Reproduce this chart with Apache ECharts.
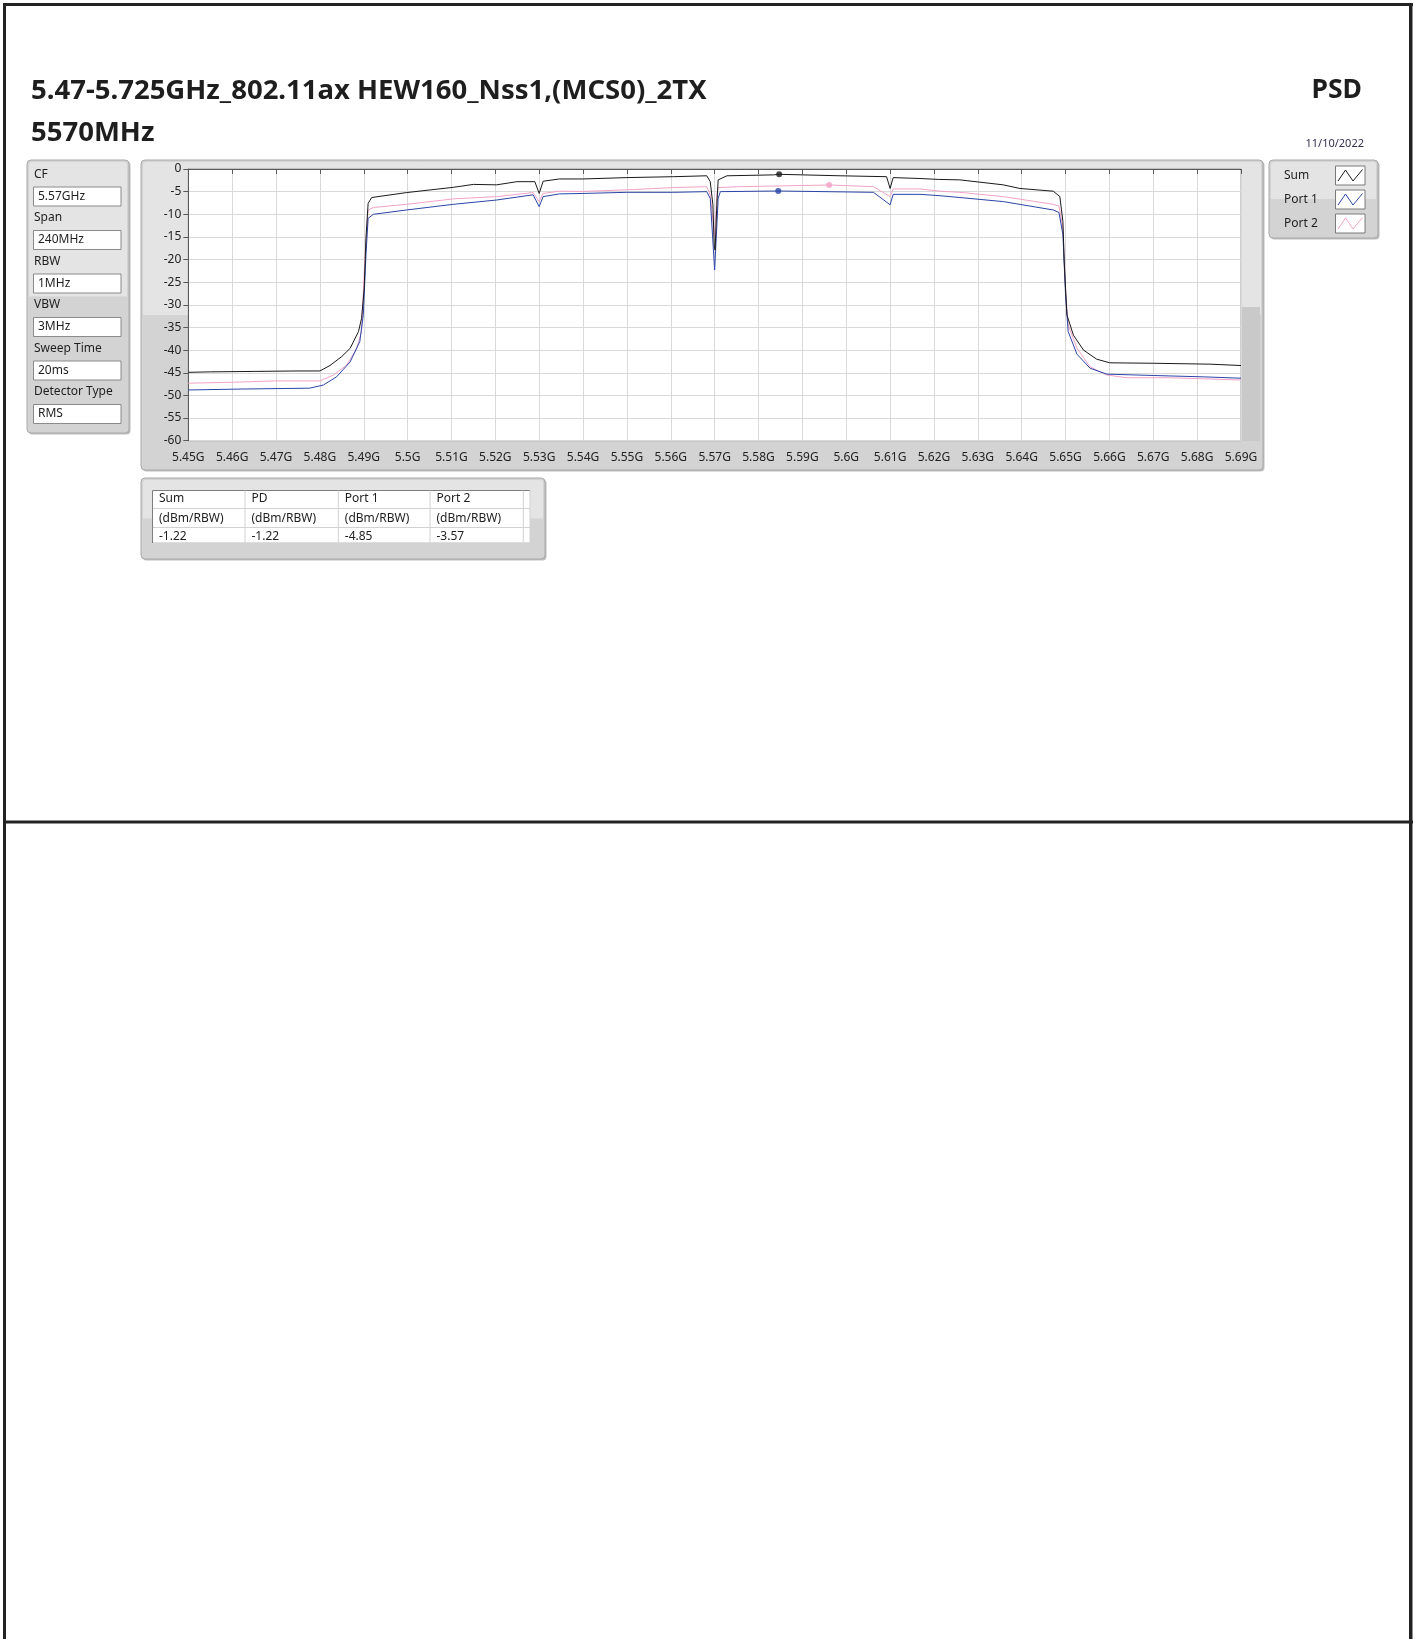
<!DOCTYPE html>
<html><head><meta charset="utf-8">
<script src="https://cdn.jsdelivr.net/npm/echarts@6/dist/echarts.min.js"></script>
<style>html,body{margin:0;padding:0;background:#fff;}#c{width:1415px;height:1639px;}</style>
</head><body><div id="c"></div>
<script>
// ---------- texts ----------
const titleLine1 = '5.47-5.725GHz_802.11ax HEW160_Nss1,(MCS0)_2TX';
const titleLine2 = '5570MHz';
const chartName = 'PSD';
const dateText = '11/10/2022';
const paramLabels = ['CF', 'Span', 'RBW', 'VBW', 'Sweep Time', 'Detector Type'];
const paramValues = ['5.57GHz', '240MHz', '1MHz', '3MHz', '20ms', 'RMS'];
const seriesNames = ['Sum', 'Port 1', 'Port 2'];
const seriesColors = ['#1a1a1a', '#2b45a8', '#f2a3c6'];
const tableHeaders = ['Sum', 'PD', 'Port 1', 'Port 2'];
const tableUnits = ['(dBm/RBW)', '(dBm/RBW)', '(dBm/RBW)', '(dBm/RBW)'];
const tableValues = ['-1.22', '-1.22', '-4.85', '-3.57'];
const xTickLabels = ['5.45G','5.46G','5.47G','5.48G','5.49G','5.5G','5.51G','5.52G','5.53G','5.54G','5.55G','5.56G','5.57G','5.58G','5.59G','5.6G','5.61G','5.62G','5.63G','5.64G','5.65G','5.66G','5.67G','5.68G','5.69G'];
const yTickLabels = ['0','-5','-10','-15','-20','-25','-30','-35','-40','-45','-50','-55','-60'];

// ---------- data (frequency in MHz, level in dBm) ----------
const sumFreq = [5450,5455,5465,5475,5480,5482.3,5485,5486.9,5488.8,5489.5,5490.1,5490.5,5491,5491.8,5499.8,5510.4,5515,5520.3,5524.9,5529,5530,5530.9,5534.6,5540,5550,5560.6,5568.2,5569,5569.6,5569.9,5570.1,5570.5,5570.8,5572.8,5583.4,5584.7,5598.6,5609.2,5610,5610.7,5616.8,5621,5625.9,5635.8,5639.6,5647.2,5648.7,5649.4,5649.7,5650.3,5651.8,5654.1,5657.1,5660.1,5670,5682.9,5690];
const sumVal  = [-44.9,-44.8,-44.7,-44.6,-44.6,-43.4,-41.4,-39.6,-35.9,-33.0,-26.4,-15.3,-7.6,-6.3,-5.2,-4.05,-3.4,-3.5,-2.8,-2.8,-5.4,-2.7,-2.2,-2.2,-1.9,-1.7,-1.5,-2.8,-7.9,-16.8,-17.9,-7.9,-2.4,-1.5,-1.3,-1.17,-1.5,-1.7,-4.3,-1.9,-2.1,-2.3,-2.4,-3.5,-4.3,-4.9,-6.1,-11.6,-20.5,-32.2,-36.7,-40.0,-42.0,-42.8,-42.9,-43.1,-43.4];

const port1Freq = [5450,5461.8,5477.7,5480.8,5483.8,5486.9,5489.1,5489.9,5490.5,5491,5492.2,5499.8,5510.4,5520.3,5528.6,5530,5530.9,5534.6,5540,5550,5560.6,5568.2,5569,5570,5570.8,5571.3,5584.5,5606.2,5610,5610.7,5616.8,5621.4,5625.9,5635.8,5647.2,5648.5,5649.4,5650,5650.6,5652.6,5655.6,5659.4,5670,5681.4,5690];
const port1Val  = [-48.8,-48.6,-48.4,-47.7,-45.9,-42.6,-38.1,-32.2,-19.0,-10.9,-10.0,-9.05,-7.8,-6.85,-5.7,-8.3,-6.1,-5.5,-5.4,-5.15,-5.15,-5.0,-6.5,-22.3,-6.5,-5.0,-4.86,-5.15,-7.9,-5.6,-5.6,-5.9,-6.3,-7.2,-9.05,-9.6,-14.5,-27.8,-35.9,-40.9,-44.0,-45.3,-45.6,-45.9,-46.2];

const port2Freq = [5450,5460,5469.6,5480,5483.1,5486.1,5488.4,5489.5,5490.3,5491,5492.2,5499.8,5510.4,5520.3,5528.6,5530,5530.9,5534.6,5540,5550,5560.6,5568.2,5569,5570,5570.5,5570.8,5575.7,5596.1,5606.2,5610,5610.7,5616.8,5621.4,5625.9,5635.8,5647.2,5648.5,5649.4,5650,5650.6,5652.6,5655.6,5659.4,5664,5673.9,5690];
const port2Val  = [-47.3,-47.1,-46.8,-46.8,-45.5,-43.3,-39.6,-35.9,-19.0,-9.05,-8.5,-7.8,-6.6,-6.1,-5.2,-7.2,-5.4,-4.9,-4.95,-4.6,-4.1,-3.9,-5.7,-15.0,-5.7,-4.1,-3.9,-3.53,-3.9,-6.1,-4.4,-4.4,-4.9,-5.15,-6.1,-7.8,-8.2,-13.1,-26.4,-34.4,-39.6,-43.7,-45.5,-46.1,-46.1,-46.6];

const markerFreq = [5584.7, 5584.5, 5596.1];
const markerVal  = [-1.17, -4.86, -3.53];

// ---------- helpers ----------
const FONT = '"Noto Sans", "Open Sans", sans-serif';
const zip = (a, b) => a.map((v, i) => [v, b[i]]);
const els = [];
function panel(x, y, w, h) {
  els.push({type:'rect', z:-20, shape:{x:x+1.5, y:y+1.5, width:w, height:h, r:4}, style:{fill:'#bdbdbd'}});
  els.push({type:'rect', z:-19, shape:{x:x, y:y, width:w, height:h, r:4}, style:{fill:'#d3d3d3', stroke:'#a9a9a9', lineWidth:1}});
  els.push({type:'rect', z:-18, shape:{x:x+2, y:y+2, width:w-4, height:h/2-2, r:[3,3,0,0]}, style:{fill:'#e4e4e4'}});
}
function txt(t, x, y, size, opts) {
  opts = opts || {};
  els.push({type:'text', z:10, style:{text:t, x:x, y:y, font:(opts.bold?'bold ':'') + size + 'px ' + FONT,
    fill:opts.color || '#1e1e1e', textAlign:opts.align || 'left', textVerticalAlign:'middle', verticalAlign:'middle'}});
}
function line(x1, y1, x2, y2, color, w, z) {
  els.push({type:'line', z:z == null ? 5 : z, shape:{x1, y1, x2, y2}, style:{stroke:color, lineWidth:w}});
}
function rectEl(x, y, w, h, fill, stroke, z) {
  els.push({type:'rect', z:z == null ? -10 : z, shape:{x, y, width:w, height:h}, style:{fill:fill, stroke:stroke || null, lineWidth:1}});
}

// page frame
rectEl(3, 3, 3, 1636, '#222', null, 20);
rectEl(3, 3, 1410, 3, '#222', null, 20);
rectEl(1409, 3, 3.5, 1636, '#222', null, 20);
rectEl(3, 820.5, 1410, 3, '#222', null, 20);

// titles
txt(titleLine1, 31, 91, 27.5, {bold:true});
txt(titleLine2, 31, 133.5, 27.5, {bold:true});
txt(chartName, 1362, 90.5, 26.5, {bold:true, align:'right'});
txt(dateText, 1364, 144, 11, {color:'#34304f', align:'right'});

// parameter panel
panel(27, 160, 102, 273);
paramLabels.forEach((l, i) => {
  const cy = 174.5 + i * 43.5;
  txt(l, 34, cy, 12);
  rectEl(33.5, cy + 12.5, 87.5, 19, '#ffffff', '#8a8a8a', -5);
  txt(paramValues[i], 38, cy + 22, 12);
});

// graph panel
panel(141, 160, 1122, 310);
rectEl(1241, 307, 19, 134, '#c9c9c9', null, -9);

// legend panel
panel(1269, 160, 109, 78);
seriesNames.forEach((n, i) => {
  const top = 166 + i * 24;
  txt(n, 1284, top + 9.5, 12);
  rectEl(1335.5, top, 29.5, 19, '#ffffff', '#7a7a7a', -5);
  els.push({type:'polyline', z:6, shape:{points:[[1338, top+15], [1345.5, top+4], [1353, top+15], [1362.5, top+3.5]]},
    style:{stroke:seriesColors[i], lineWidth:1, fill:null}});
});

// table panel
panel(141, 478, 404, 81);
rectEl(152.5, 490.5, 377.5, 52, '#ffffff', null, -5);
const colX = [152.5, 245, 338.3, 430, 523.3, 530];
const rowY = [490.5, 508.5, 527.5, 543];
rowY.forEach((y, i) => line(152.5, y, 530, y, i === 0 ? '#7e7e7e' : '#d2d2d2', 1, -4));
colX.forEach((x, i) => line(x, 490.5, x, 543, i === 0 ? '#7e7e7e' : '#d2d2d2', 1, -4));
tableHeaders.forEach((t, i) => {
  txt(t, colX[i] + 6.5, 498.5, 12);
  txt(tableUnits[i], colX[i] + 6.5, 518.5, 12);
  txt(tableValues[i], colX[i] + 6.5, 537, 12);
});

// ---------- chart ----------
const chart = echarts.init(document.getElementById('c'), null, {renderer:'canvas'});
const ser = (name, f, v, color, z) => ({
  name, type:'line', data:zip(f, v), showSymbol:false, symbol:'none', z:z, animation:false,
  lineStyle:{color, width:1}, itemStyle:{color}
});
chart.setOption({
  animation:false,
  backgroundColor:'#ffffff',
  textStyle:{fontFamily:FONT},
  graphic:{elements:els},
  grid:{left:188.3, top:169, width:1052.7, height:271.7, show:true, backgroundColor:'#ffffff', borderColor:'#9c9c9c', borderWidth:1, z:0},
  xAxis:{type:'value', min:5450, max:5690, interval:10,
    axisLine:{show:true, lineStyle:{color:'#5a5a5a'}},
    axisTick:{show:true, length:5, lineStyle:{color:'#5a5a5a'}},
    axisLabel:{fontSize:12, color:'#222', margin:10.5, fontFamily:FONT,
      formatter:v => { const k = Math.round((v - 5450) / 10); return xTickLabels[k] || ''; }},
    splitLine:{show:true, lineStyle:{color:'#d9d9d9'}}},
  yAxis:{type:'value', min:-60, max:0, interval:5,
    axisLine:{show:true, lineStyle:{color:'#5a5a5a'}},
    axisTick:{show:true, length:5, lineStyle:{color:'#5a5a5a'}},
    axisLabel:{fontSize:12, color:'#222', margin:7, fontFamily:FONT,
      formatter:v => { const k = Math.round(-v / 5); return yTickLabels[k] || ''; }},
    splitLine:{show:true, lineStyle:{color:'#d9d9d9'}}},
  series:[
    ser(seriesNames[2], port2Freq, port2Val, seriesColors[2], 3),
    ser(seriesNames[1], port1Freq, port1Val, seriesColors[1], 4),
    ser(seriesNames[0], sumFreq, sumVal, seriesColors[0], 5),
    {type:'scatter', z:6, symbolSize:6, animation:false,
      data:markerFreq.map((f, i) => ({value:[f, markerVal[i]], itemStyle:{color:seriesColors[i]}}))}
  ]
});
</script>
</body></html>
